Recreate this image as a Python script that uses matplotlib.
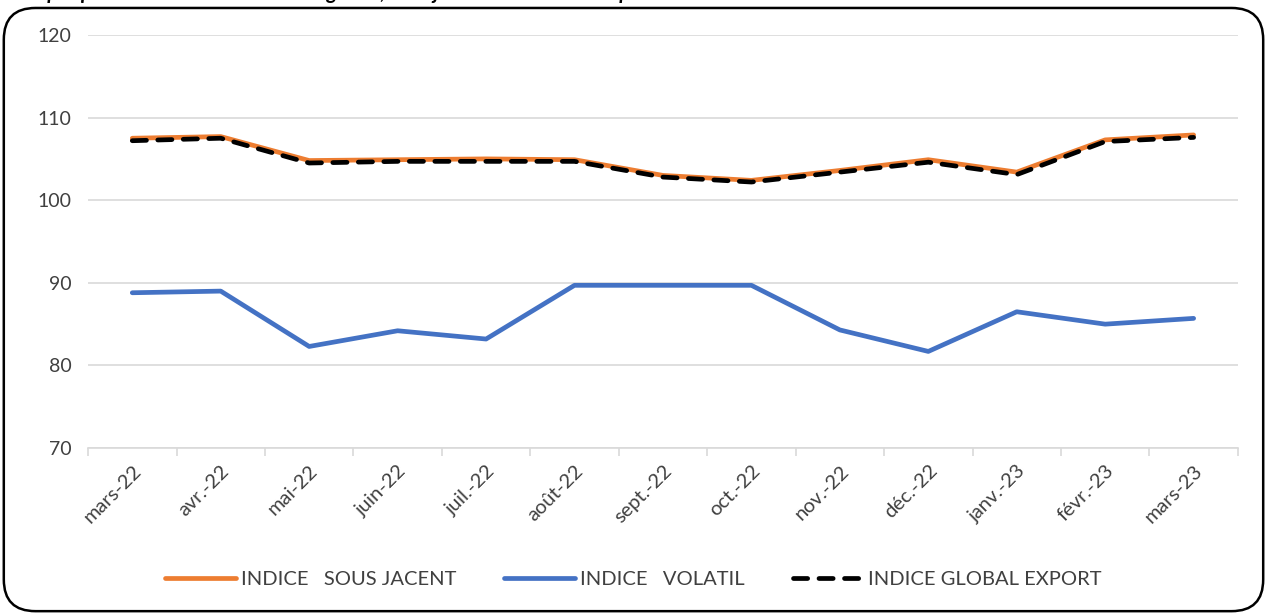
import matplotlib
matplotlib.use("Agg")
import matplotlib.pyplot as plt
import numpy as np
from matplotlib.patches import FancyBboxPatch
from matplotlib.lines import Line2D

months = ["mars-22", "avr.-22", "mai-22", "juin-22", "juil.-22", "août-22", "sept.-22",
          "oct.-22", "nov.-22", "déc.-22", "janv.-23", "févr.-23", "mars-23"]
sous_jacent = [107.5, 107.7, 104.8, 104.9, 105.0, 104.9, 103.0, 102.4, 103.6, 104.9, 103.4, 107.3, 107.9]
volatil = [88.8, 89.0, 82.3, 84.2, 83.2, 89.7, 89.7, 89.7, 84.3, 81.7, 86.5, 85.0, 85.7]
global_export = [107.2, 107.5, 104.5, 104.7, 104.7, 104.7, 102.8, 102.2, 103.4, 104.6, 103.1, 107.1, 107.6]
yticks = [70, 80, 90, 100, 110, 120]

plt.rcParams['font.family'] = ['Lato', 'DejaVu Sans']

fig = plt.figure(figsize=(12.67, 6.13), dpi=100)
ax = fig.add_axes([0.0695, 0.269, 0.9075, 0.674])

x = np.arange(len(months))
LW = 3.4
ax.plot(x, sous_jacent, color="#ED7D31", lw=LW, solid_capstyle="round", solid_joinstyle="round", zorder=3)
ax.plot(x, volatil, color="#4472C4", lw=LW, solid_capstyle="round", solid_joinstyle="round", zorder=3)
ax.plot(x, global_export, color="black", lw=LW, linestyle=(0, (3.0, 2.4)), dash_capstyle="round", zorder=4)

ax.set_xlim(-0.5, len(months) - 0.5)
ax.set_ylim(70, 120)
ax.set_yticks(yticks)
ax.yaxis.grid(True, color="#d9d9d9", lw=1.2)
ax.set_axisbelow(True)
for s in ["top", "right", "left"]:
    ax.spines[s].set_visible(False)
ax.spines["bottom"].set_color("#d9d9d9")
ax.spines["bottom"].set_linewidth(1.2)

ax.set_xticks(x)
ax.set_xticklabels(months, rotation=45, ha="right", rotation_mode="anchor", fontsize=14.5, color="#404040")
ax.tick_params(axis="x", which="major", length=0, pad=10)
ax.set_xticks(np.arange(-0.5, len(months), 1), minor=True)
ax.tick_params(axis="x", which="minor", length=6, color="#d9d9d9", width=1.2)
ax.tick_params(axis="y", length=0, labelsize=14, labelcolor="#404040", pad=12)

handles = [Line2D([], [], color="#ED7D31", lw=LW, solid_capstyle="round"),
           Line2D([], [], color="#4472C4", lw=LW, solid_capstyle="round"),
           Line2D([], [], color="black", lw=LW, linestyle=(0, (3.0, 2.4)), dash_capstyle="round")]
labels = ["INDICE   SOUS JACENT", "INDICE   VOLATIL", "INDICE GLOBAL EXPORT"]
fig.legend(handles, labels, loc="center", bbox_to_anchor=(0.5, 0.055), ncol=3, frameon=False,
           fontsize=14.5, labelcolor="#404040", handlelength=3.5, handletextpad=0.25, columnspacing=2.4)

frame = FancyBboxPatch((0.003, 0.003), 0.994, 0.984, boxstyle="round,pad=0,rounding_size=0.025",
                       transform=fig.transFigure, fill=False, edgecolor="black", lw=1.8,
                       mutation_aspect=1267/613)
fig.patches.append(frame)

fig.text(0.012, 1.012, "Graphique 3 : Evolution des indices global, sous jacent et volatil à l'exportation",
         fontsize=15, style="italic", fontweight="bold", ha="left", va="center", color="black")

fig.savefig("out.png", dpi=100)
